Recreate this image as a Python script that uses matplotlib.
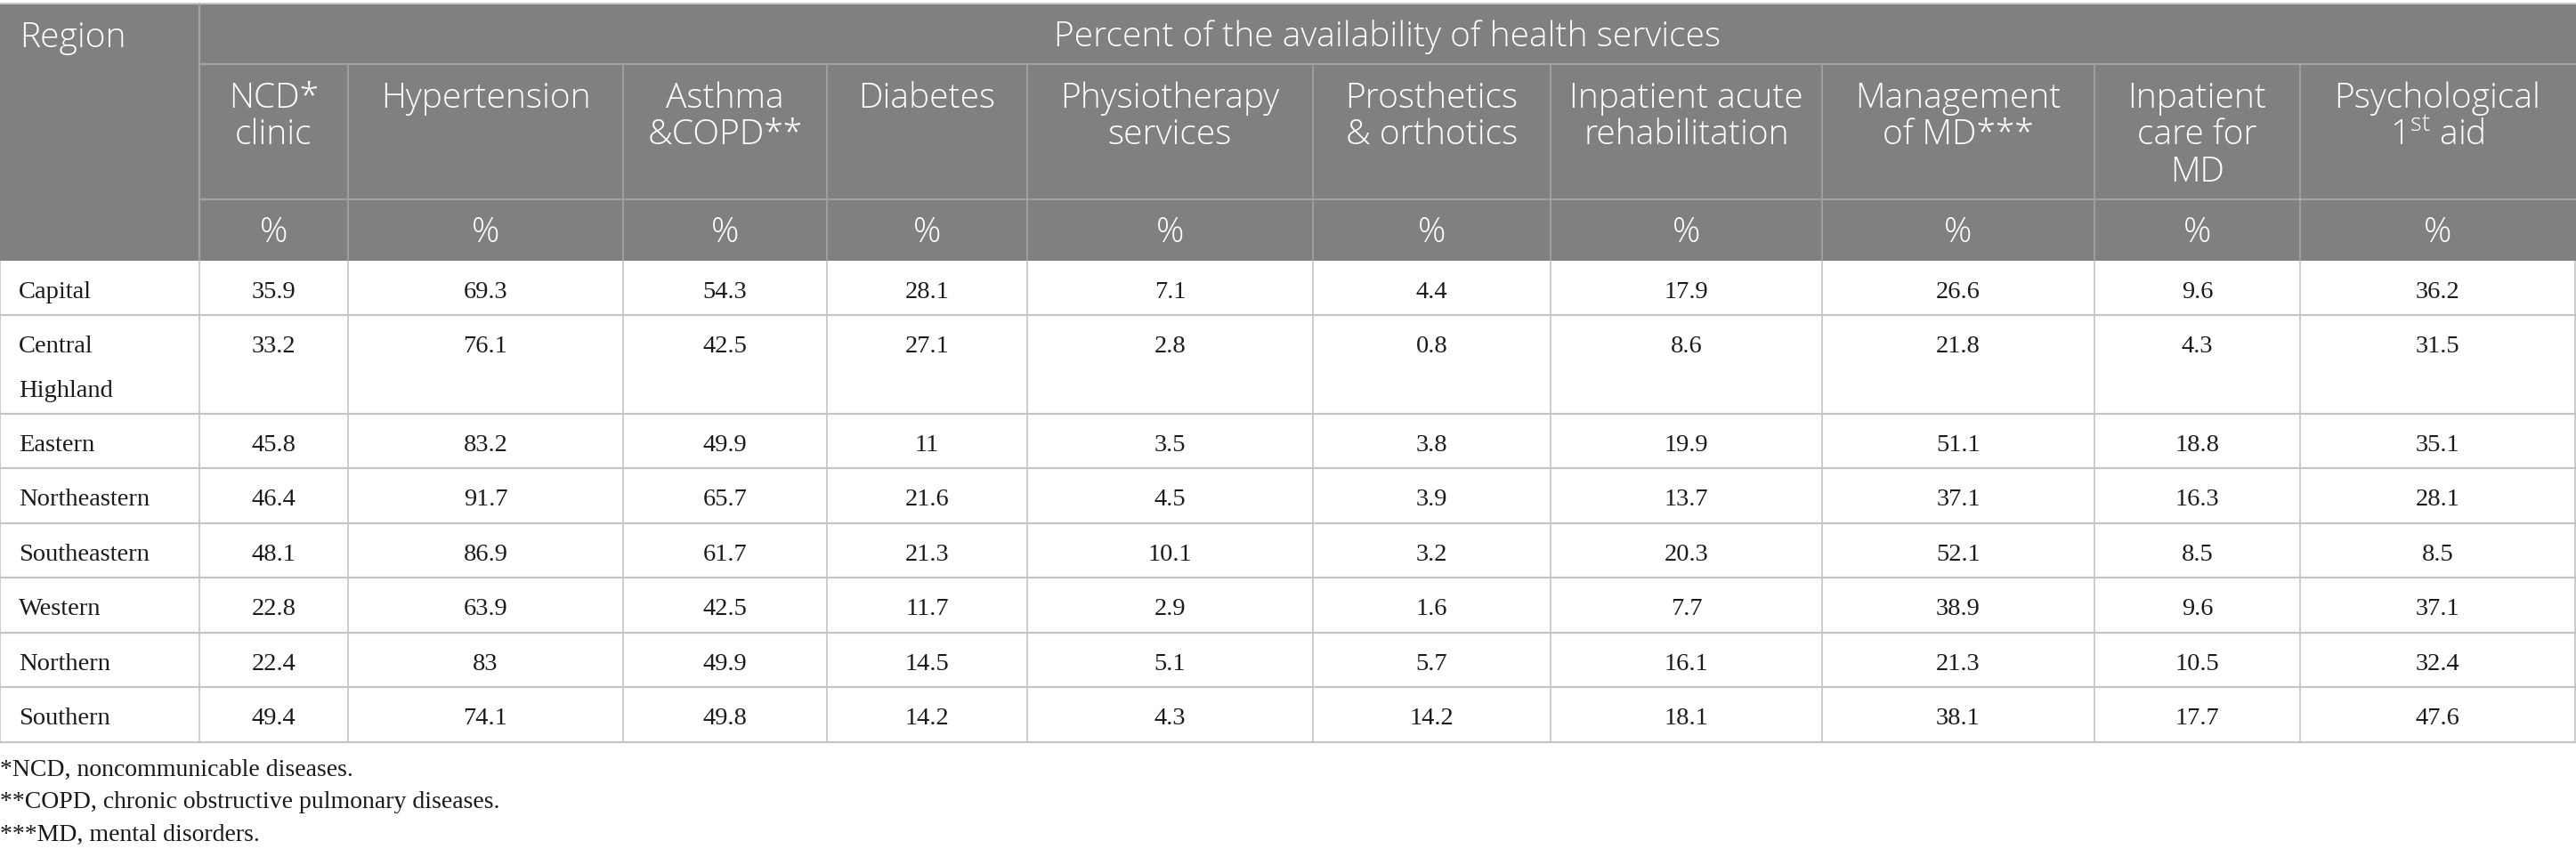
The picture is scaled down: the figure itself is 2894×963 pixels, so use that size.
import matplotlib
matplotlib.use("Agg")
import matplotlib.pyplot as plt
from matplotlib.patches import Rectangle

plt.rcParams['mathtext.fontset'] = 'custom'
plt.rcParams['mathtext.rm'] = 'Open Sans:light'
plt.rcParams['mathtext.it'] = 'Open Sans:italic'
plt.rcParams['mathtext.bf'] = 'Open Sans:bold'

# data
regions = ['Capital', 'Central\nHighland', 'Eastern', 'Northeastern', 'Southeastern',
           'Western', 'Northern', 'Southern']
services = [
    ['NCD*', 'clinic'],
    ['Hypertension'],
    ['Asthma', '&COPD**'],
    ['Diabetes'],
    ['Physiotherapy', 'services'],
    ['Prosthetics', '& orthotics'],
    ['Inpatient acute', 'rehabilitation'],
    ['Management', 'of MD***'],
    ['Inpatient', 'care for', 'MD'],
    ['Psychological', '1$^{\\mathrm{st}}$ aid'],
]
ncd_clinic = ['35.9', '33.2', '45.8', '46.4', '48.1', '22.8', '22.4', '49.4']
hypertension = ['69.3', '76.1', '83.2', '91.7', '86.9', '63.9', '83', '74.1']
asthma_copd = ['54.3', '42.5', '49.9', '65.7', '61.7', '42.5', '49.9', '49.8']
diabetes = ['28.1', '27.1', '11', '21.6', '21.3', '11.7', '14.5', '14.2']
physiotherapy = ['7.1', '2.8', '3.5', '4.5', '10.1', '2.9', '5.1', '4.3']
prosthetics = ['4.4', '0.8', '3.8', '3.9', '3.2', '1.6', '5.7', '14.2']
inpatient_rehab = ['17.9', '8.6', '19.9', '13.7', '20.3', '7.7', '16.1', '18.1']
management_md = ['26.6', '21.8', '51.1', '37.1', '52.1', '38.9', '21.3', '38.1']
inpatient_md = ['9.6', '4.3', '18.8', '16.3', '8.5', '9.6', '10.5', '17.7']
psych_first_aid = ['36.2', '31.5', '35.1', '28.1', '8.5', '37.1', '32.4', '47.6']
columns = [ncd_clinic, hypertension, asthma_copd, diabetes, physiotherapy,
           prosthetics, inpatient_rehab, management_md, inpatient_md, psych_first_aid]
footnotes = ['*NCD, noncommunicable diseases.',
             '**COPD, chronic obstructive pulmonary diseases.',
             '***MD, mental disorders.']

# layout (pixels)
W, H = 2894, 963
col_edges = [0, 224, 391, 700, 929, 1154, 1475, 1742, 2047, 2353, 2584, W - 1]
head_edges = [4, 72, 224, 293]
row_edges = [293, 354, 465, 526, 588, 649, 711, 772, 834]

HEAD_BG = '#808080'
HEAD_LINE = '#a3a3a3'
BODY_LINE = '#c4c4c4'
sans = 'Open Sans'
serif = 'Liberation Serif'
hsize = 28
bsize = 20.5

fig = plt.figure(figsize=(W / 100, H / 100), dpi=100)
ax = fig.add_axes([0, 0, 1, 1])
ax.set_xlim(0, W)
ax.set_ylim(H, 0)
ax.axis('off')

# header background
ax.add_patch(Rectangle((0, head_edges[0]), W, head_edges[-1] - head_edges[0],
                       facecolor=HEAD_BG, edgecolor='none'))
ax.hlines(head_edges[0], 0, W, color='#c8c8c8', lw=1.5)
ax.vlines(col_edges[1], head_edges[0], head_edges[-1], color=HEAD_LINE, lw=1.5)
ax.hlines(head_edges[1:3], col_edges[1], W, color=HEAD_LINE, lw=1.5)
ax.vlines(col_edges[2:-1], head_edges[1], head_edges[-1], color=HEAD_LINE, lw=1.2)

hkw = dict(color='white', fontsize=hsize, family=sans, fontweight='light', va='baseline')
ax.text(22, 53, 'Region', **hkw)
ax.text((col_edges[1] + W) / 2, 52, 'Percent of the availability of health services',
        ha='center', **hkw)
for i, lines in enumerate(services):
    cx = (col_edges[i + 1] + col_edges[i + 2]) / 2
    for k, line in enumerate(lines):
        ax.text(cx, 121 + 41.5 * k, line, ha='center', **hkw)
    ax.text(cx, 272, '%', ha='center', **hkw)

# body
ax.hlines(row_edges[1:], 0, W, color=BODY_LINE, lw=1.6)
ax.vlines(col_edges, row_edges[0], row_edges[-1], color=BODY_LINE, lw=1.2)
for r, name in enumerate(regions):
    top = row_edges[r]
    for k, part in enumerate(name.split('\n')):
        ax.text(21, top + 42 + 50 * k, part, color='#1a1a1a', fontsize=bsize,
                family=serif, va='baseline')
    for c, vals in enumerate(columns):
        cx = (col_edges[c + 1] + col_edges[c + 2]) / 2
        ax.text(cx, top + 42, vals[r], color='#1a1a1a', fontsize=bsize,
                family=serif, ha='center', va='baseline')

for k, note in enumerate(footnotes):
    ax.text(0, 872 + 36.5 * k, note, color='#1a1a1a', fontsize=20, family=serif,
            va='baseline')

fig.savefig('out.png', dpi=100, facecolor='white')
